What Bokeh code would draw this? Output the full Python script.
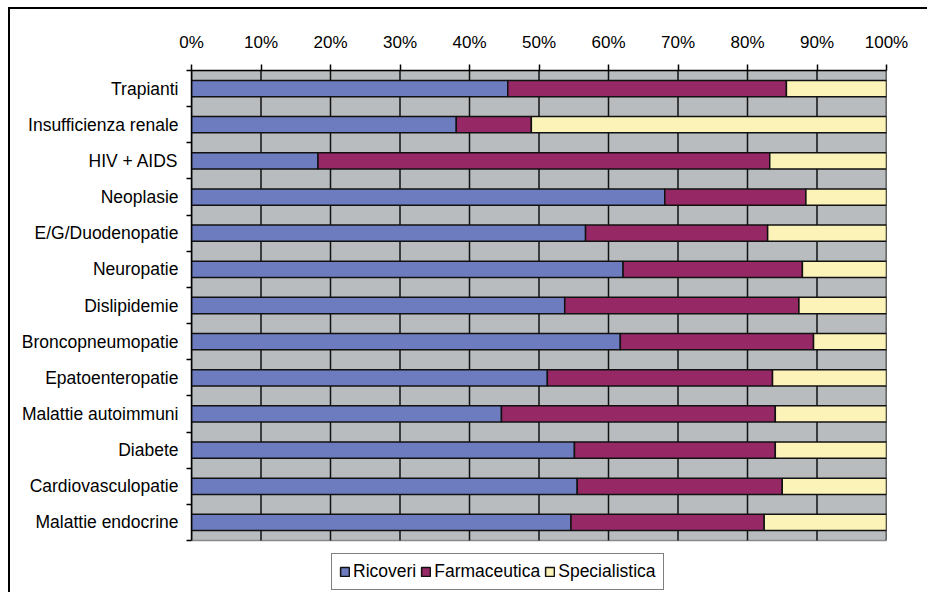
from bokeh.plotting import figure
from bokeh.models import Range1d, FixedTicker, Legend, LegendItem, LinearAxis, InlineStyleSheet
from bokeh.embed import file_html
from bokeh.resources import INLINE

categories = ["Trapianti", "Insufficienza renale", "HIV + AIDS", "Neoplasie",
              "E/G/Duodenopatie", "Neuropatie", "Dislipidemie", "Broncopneumopatie",
              "Epatoenteropatie", "Malattie autoimmuni", "Diabete",
              "Cardiovasculopatie", "Malattie endocrine"]
ricoveri = [45.5, 38.1, 18.2, 68.1, 56.7, 62.1, 53.7, 61.7, 51.2, 44.6, 55.1, 55.5, 54.6]
farmaceutica = [40.1, 10.8, 65.0, 20.3, 26.2, 25.8, 33.7, 27.8, 32.4, 39.4, 28.9, 29.5, 27.8]
specialistica = [round(100 - r - f, 1) for r, f in zip(ricoveri, farmaceutica)]
series_names = ["Ricoveri", "Farmaceutica", "Specialistica"]
colors = ["#6C7CBF", "#962866", "#FCF3B9"]
x_ticks = [0, 10, 20, 30, 40, 50, 60, 70, 80, 90, 100]
x_labels = ["0%", "10%", "20%", "30%", "40%", "50%", "60%", "70%", "80%", "90%", "100%"]

n = len(categories)
ypos = [i + 0.5 for i in range(n)]

FONT = "Liberation Sans"

# layout (pixels)
W, H = 927, 592
TOP, LEFT, RIGHT = 70, 191, 41
PLOT_H = 470               # height of the category area
FRAME_H = H - TOP          # frame extends to the bottom so the legend can sit there
y_bottom = n * FRAME_H / PLOT_H

border_css = InlineStyleSheet(css="""
:host::after {
  content: "";
  position: absolute;
  left: 8px; top: 7px; width: 940px; height: 600px;
  border-left: 2px solid #000;
  border-top: 2px solid #000;
  pointer-events: none;
  box-sizing: border-box;
}
""")

p = figure(width=W, height=H, output_backend="svg", toolbar_location=None,
           x_range=Range1d(x_ticks[0], x_ticks[-1]), y_range=Range1d(y_bottom, 0),
           x_axis_location=None, y_axis_location=None,
           min_border_left=LEFT, min_border_right=RIGHT, min_border_top=TOP, min_border_bottom=0,
           stylesheets=[border_css])
p.background_fill_color = "white"
p.border_fill_color = "white"
p.outline_line_color = None
p.xgrid.visible = False
p.ygrid.visible = False

# plot-area background and vertical gridlines (limited to the category area)
p.quad(left=x_ticks[0], right=x_ticks[-1], bottom=n, top=0,
       fill_color="#B9BCBE", line_color="#8A8A8A", line_width=1.5, level="underlay")
p.segment(x0=x_ticks, y0=[0] * len(x_ticks), x1=x_ticks, y1=[n] * len(x_ticks),
          line_color="#111111", line_width=1.5, level="underlay")

data = dict(y=ypos, Ricoveri=ricoveri, Farmaceutica=farmaceutica, Specialistica=specialistica)
rs = p.hbar_stack(series_names, y="y", height=0.45, source=data, color=colors,
                  line_color="#111111", line_width=1.5)

# top axis
xa = LinearAxis(ticker=FixedTicker(ticks=x_ticks),
                major_label_overrides={t: l for t, l in zip(x_ticks, x_labels)})
xa.major_tick_out = 6
xa.major_tick_in = 0
xa.minor_tick_out = 0
xa.minor_tick_in = 0
xa.axis_line_color = "black"
xa.axis_line_width = 1.5
xa.major_tick_line_width = 1.5
xa.major_label_text_font = FONT
xa.major_label_text_font_size = "17px"
xa.major_label_text_color = "black"
xa.major_label_standoff = 13
p.add_layout(xa, "above")

# left axis: labels at category centres, ticks at category boundaries
ya = LinearAxis(ticker=FixedTicker(ticks=ypos, minor_ticks=list(range(n + 1))),
                major_label_overrides={y: c for y, c in zip(ypos, categories)},
                bounds=(0, n))
ya.major_tick_out = 0
ya.major_tick_in = 0
ya.minor_tick_out = 5
ya.minor_tick_in = 0
ya.minor_tick_line_color = "black"
ya.minor_tick_line_width = 1.5
ya.axis_line_color = "black"
ya.axis_line_width = 1.5
ya.major_label_text_font = FONT
ya.major_label_text_font_size = "17.5px"
ya.major_label_text_color = "black"
ya.major_label_standoff = 8
p.add_layout(ya, "left")

legend = Legend(items=[LegendItem(label=nm, renderers=[r]) for nm, r in zip(series_names, rs)],
                orientation="horizontal", location=(140, 2), margin=0)
legend.label_text_font = FONT
legend.label_text_font_size = "17.5px"
legend.label_text_color = "black"
legend.glyph_width = 11
legend.glyph_height = 11
legend.label_standoff = 3
legend.spacing = 4
legend.padding = 7
legend.label_height = 20
legend.border_line_color = "black"
legend.border_line_width = 1.5
legend.background_fill_color = "white"
legend.background_fill_alpha = 1
p.add_layout(legend, "center")

open("out.html", "w").write(file_html(p, INLINE))
